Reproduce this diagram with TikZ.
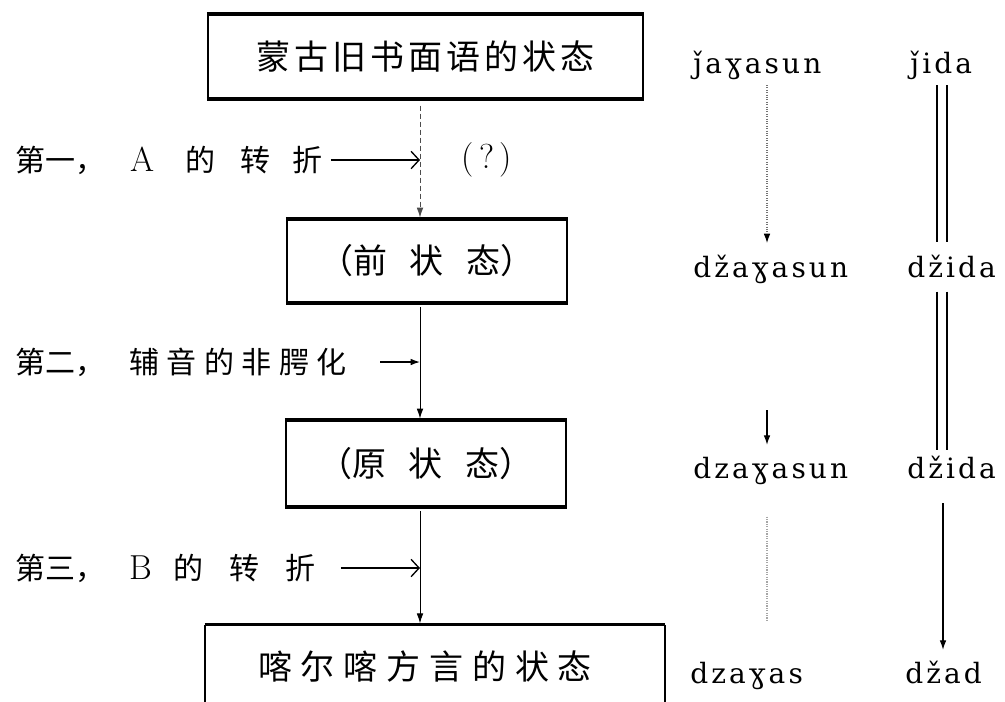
\documentclass[tikz,border=0pt]{standalone}
\usepackage{fontspec}
\usetikzlibrary{arrows.meta}
\newfontfamily\cjk{Noto Sans CJK SC}
\newfontfamily\cjkA[LetterSpace=12]{Noto Sans CJK SC}
\newfontfamily\cjkB[LetterSpace=26]{Noto Sans CJK SC}
\newfontfamily\cjkC[LetterSpace=25]{Noto Sans CJK SC}
\newfontfamily\trf[LetterSpace=11]{DejaVu Serif}
\begin{document}
\begin{tikzpicture}[x=0.75pt,y=-0.75pt,
  frame/.style={draw, line width=1.6pt, inner sep=0pt, font={\cjkA\fontsize{25.5}{30}\selectfont}},
  edge/.style={line width=2.6pt},
  boxtext/.style={inner sep=0pt, font={\cjk\fontsize{25.5}{30}\selectfont}},
  lab/.style={anchor=west, inner sep=0pt, font={\cjk\fontsize{22.5}{26}\selectfont}},
  latin/.style={font={\fontsize{26}{30}\selectfont}},
  tr/.style={anchor=base west, inner sep=0pt, font={\trf\fontsize{21}{24}\selectfont}},
  flow/.style={line width=0.7pt, -{Latex[length=7.5pt,width=5pt]}},
  flowdash/.style={flow, dash pattern=on 4pt off 2pt, draw=black!70},
  larrow/.style={line width=1pt, -{Straight Barb[length=6pt,width=13pt,line width=1pt]}},
  sarrow/.style={line width=1pt, -{Latex[length=7pt,width=5pt]}},
  dotline/.style={line width=0.8pt, densely dotted, draw=black!55},
  dbl/.style={line width=0.8pt}
]
\fill[white] (0,0) rectangle (1005,701);
\useasboundingbox (0,0) rectangle (1005,701);

% column coordinates
\coordinate (cM) at (420,0);
\coordinate (cA) at (767,0);
\coordinate (cB1) at (937,0);
\coordinate (cB2) at (947,0);
\coordinate (cBm) at (943,0);
\coordinate (bot) at (0,702);

% boxes
\node[frame, minimum width=326.25pt, minimum height=62.25pt] (b1) at (425.5,56.5) {蒙古旧书面语的状态};
\draw[edge] (b1.north west) -- (b1.north east);
\draw[edge] (b1.south west) -- (b1.south east);

\node[frame, minimum width=210pt, minimum height=61.5pt] (b2) at (427,261) {};
\node[boxtext] (t2) at (b2.center) {（前\hspace{17pt}状\hspace{17pt}态）};
\draw[edge] (b2.north west) -- (b2.north east);
\draw[edge] (b2.south west) -- (b2.south east);

\node[frame, minimum width=210pt, minimum height=63.75pt] (b3) at (426,463.5) {};
\node[boxtext] (t3) at (b3.center) {（原\hspace{17pt}状\hspace{17pt}态）};
\draw[edge] (b3.north west) -- (b3.north east);
\draw[edge] (b3.south west) -- (b3.south east);

\node[inner sep=0pt, minimum width=345pt, minimum height=57pt] (b4) at (435,663) {};
\draw[edge] (b4.north west) -- (b4.north east);
\draw[line width=1.6pt] (b4.north west) -- (b4.north west |- bot);
\draw[line width=1.6pt] (b4.north east) -- (b4.north east |- bot);
\node[boxtext, font={\cjkB\fontsize{25.5}{30}\selectfont}] (t4) at (425,666) {喀尔喀方言的状态};

% main flow
\draw[flowdash, shorten <=5pt, shorten >=1pt] (b1.south -| cM) -- (b2.north -| cM);
\draw[flow, shorten <=3pt, shorten >=1pt] (b2.south -| cM) -- (b3.north -| cM);
\draw[flow, shorten <=3pt, shorten >=1pt] (b3.south -| cM) -- (b4.north -| cM);

% labels
\node[lab] (l1) at (15,160) {第一，\hspace{19pt}{\rmfamily\fontsize{26}{30}\selectfont A}\hspace{23pt}的\hspace{19pt}转\hspace{16.5pt}折};
\draw[larrow] ([xshift=6pt]l1.east) -- (l1.east -| cM);
\node[inner sep=0pt, latin] (q) at (487,160) {(\hspace{4pt}?\hspace{4pt})};

\node[lab] (l2) at (15,362) {第二，\hspace{18pt}{\cjkC 辅音的非腭化}};
\draw[sarrow] ([xshift=25pt]l2.east) -- (l2.east -| cM);

\node[lab] (l3) at (15,568) {第三，\hspace{18pt}{\rmfamily\fontsize{26}{30}\selectfont B}\hspace{16pt}的\hspace{20pt}转\hspace{19pt}折};
\draw[larrow] ([xshift=19pt]l3.east) -- (l3.east -| cM);

% transcriptions
\node[tr] (r1a) at (693,73) {ǰaɣasun};
\node[tr] (r1b) at (910,73) {ǰida};
\node[tr] (r2a) at (693,277) {džaɣasun};
\node[tr] (r2b) at (907,277) {džida};
\node[tr] (r3a) at (693,478) {dzaɣasun};
\node[tr] (r3b) at (907,478) {džida};
\node[tr] (r4a) at (690,683) {dzaɣas};
\node[tr] (r4b) at (905,683) {džad};

% column A
\draw[dotline, -{Latex[length=7pt,width=5pt,black]}, shorten <=9pt, shorten >=25.5pt] (r1a.base -| cA) -- (r2a.base -| cA);
\draw[line width=0.8pt, -{Latex[length=7pt,width=5pt]}, shorten <=100pt, shorten >=25pt] (r2a.base -| cA) -- (r3a.base -| cA);
\draw[dotline, draw=black!35, shorten <=29pt, shorten >=47pt] (r3a.base -| cA) -- (r4a.base -| cA);

% column B
\draw[dbl, shorten <=9pt, shorten >=26pt] (r1b.base -| cB1) -- (r2b.base -| cB1);
\draw[dbl, shorten <=9pt, shorten >=26pt] (r1b.base -| cB2) -- (r2b.base -| cB2);
\draw[dbl, shorten <=11pt, shorten >=21pt] (r2b.base -| cB1) -- (r3b.base -| cB1);
\draw[dbl, shorten <=11pt, shorten >=21pt] (r2b.base -| cB2) -- (r3b.base -| cB2);
\draw[line width=0.8pt, -{Latex[length=7pt,width=5pt]}, shorten <=19pt, shorten >=25pt] (r3b.base -| cBm) -- (r4b.base -| cBm);
\end{tikzpicture}
\end{document}
